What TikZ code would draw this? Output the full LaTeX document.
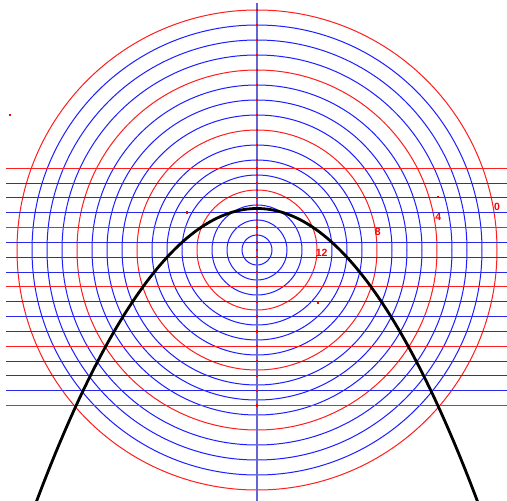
\documentclass[tikz,border=0pt]{standalone}
\usepackage{fontspec}
\setsansfont{Liberation Sans}
\definecolor{navy}{RGB}{40,40,230}
\definecolor{axiscol}{RGB}{100,100,210}
\begin{document}
\begin{tikzpicture}[x=1pt,y=-1pt,
  circblue/.style={draw={rgb,255:red,30;green,30;blue,255}, line width=1pt},
  circred/.style={draw={rgb,255:red,255;green,30;blue,30}, line width=1pt},
  hblue/.style={draw=navy, line width=1pt},
  hred/.style={draw={rgb,255:red,255;green,30;blue,30}, line width=1pt},
  axisline/.style={draw=axiscol, line width=1.1pt},
  curve/.style={draw=black, line width=2.8pt},
  dotmark/.style={fill=red, draw=none},
  lab/.style={text=red, font=\sffamily\bfseries\fontsize{10.5}{11}\selectfont, inner sep=0pt}]
\useasboundingbox (0,0) rectangle (507,501);
\fill[white] (0,0) rectangle (507,501);
\begin{scope}
\clip (0,0) rectangle (507,501);
% circles about the focus
\coordinate (F) at (257,250);
\foreach \k in {1,...,16}{
  \pgfmathtruncatemacro\m{mod(\k,4)}
  \ifnum\m=0
    \draw[circred] (F) circle[radius=15*\k pt];
  \else
    \draw[circblue] (F) circle[radius=15*\k pt];
  \fi
}
% horizontal lines (directrix and parallels)
\foreach \j in {0,...,16}{
  \pgfmathsetmacro\yy{168.3+14.83*\j}
  \coordinate (L\j a) at (6,\yy);
  \coordinate (L\j b) at (507,\yy);
  \pgfmathtruncatemacro\m{mod(\j,4)}
  \ifnum\m=0
    \draw[hred] (L\j a) -- (L\j b);
  \else
    \draw[hblue] (L\j a) -- (L\j b);
  \fi
}
% vertical axis
\coordinate (At) at (257,3);
\coordinate (Ab) at (257,501);
\draw[axisline] (At) -- (Ab);
% dots on the axis
\foreach \k in {0,...,16}{
  \pgfmathsetmacro\yy{250-15*\k}
  \fill[dotmark] (255.8,\yy-1.2) rectangle (258.2,\yy+1.2);
}
\foreach \j in {0,...,16}{
  \pgfmathsetmacro\yy{168.3+14.83*\j}
  \fill[dotmark] (255.8,\yy-1.2) rectangle (258.2,\yy+1.2);
}
% parabola
\draw[curve, domain=-225:225, samples=120, smooth]
  plot ({257+\x},{208.5+(\x/10)*(\x/10)/1.66});
\end{scope}
% loose dots
\fill[dotmark] (8.8,113.8) rectangle (11.2,116.2);
\fill[dotmark] (185.8,211.2) rectangle (188.2,213.6);
\fill[dotmark] (316.8,301.8) rectangle (319.2,304.2);
\fill[dotmark] (436.8,195.8) rectangle (439.2,198.2);
% labels
\node[lab] (l0) at (497,207) {0};
\node[lab] (l4) at (438.3,216.7) {4};
\node[lab] (l8) at (377.7,231.5) {8};
\node[lab] (l12) at (321.7,253.3) {12};
\end{tikzpicture}
\end{document}
